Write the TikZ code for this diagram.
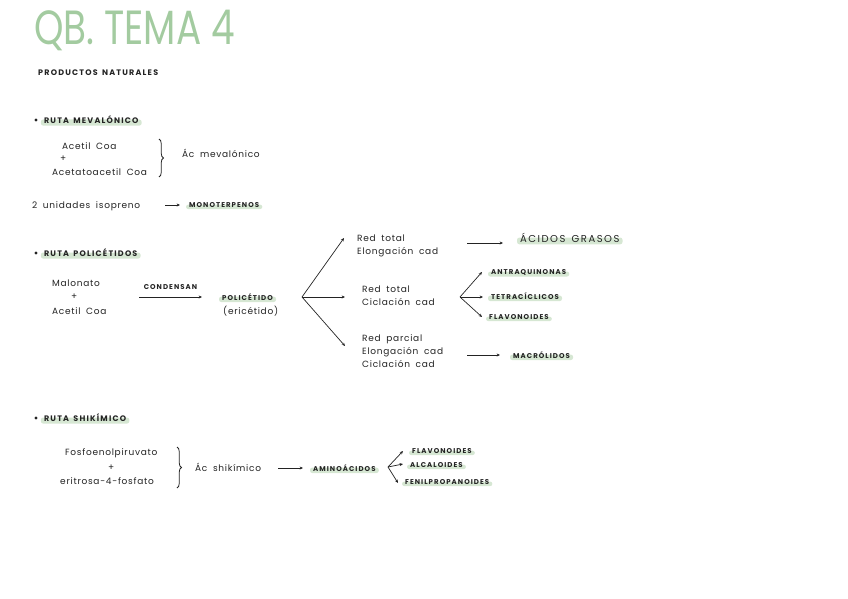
\documentclass[tikz,border=0pt]{standalone}
\usepackage{fontspec}
\setmainfont{Poppins}
\newfontfamily\handfont[LetterSpace=8, WordSpace=1.8]{Poppins}
\newfontfamily\capsfont[LetterSpace=15, WordSpace=1.5]{Poppins}
\usetikzlibrary{arrows.meta, positioning, calc, backgrounds, decorations.pathreplacing}
\definecolor{mygreen}{RGB}{163,203,160}
\definecolor{hlgreen}{RGB}{214,231,211}
\definecolor{myink}{RGB}{35,35,35}
\tikzset{
  titletext/.style={font=\fontsize{48}{48}\selectfont, text=mygreen,
    inner sep=0pt, anchor=west},
  hand/.style={font=\handfont\fontsize{9}{13}\selectfont, text=myink,
    inner sep=0pt, anchor=west, align=left},
  caps/.style={font=\capsfont\bfseries\fontsize{8}{9}\selectfont, text=myink,
    inner sep=0pt, anchor=west},
  tinycaps/.style={font=\capsfont\bfseries\fontsize{7}{8}\selectfont, text=myink,
    inner sep=0pt, anchor=west},
  bigcaps/.style={font=\capsfont\fontsize{10}{12}\selectfont, text=myink,
    inner sep=0pt, anchor=west},
  dot/.style={circle, fill=myink, inner sep=0pt, minimum size=3.2pt},
  arrow/.style={-{Stealth[length=3.4pt, width=3pt]}, line width=0.7pt, color=myink},
  handbrace/.style={decorate, decoration={brace, amplitude=4.5pt},
    line width=0.8pt, color=myink}
}

\begin{document}
\begin{tikzpicture}[x=1pt, y=-1pt]
  \useasboundingbox (0,0) rectangle (848,599);

  % Title
  \node[titletext] (title) at (34,30) {\scalebox{0.78}[1]{QB. TEMA 4}};
  \node[caps] (prod) at (38,73) {PRODUCTOS NATURALES};

  % Ruta mevalonico
  \node[dot] (b1) at (36,120) {};
  \node[caps, right=6pt of b1] (mev) {RUTA MEVALÓNICO};
  \node[hand] (acetil) at (62,146) {Acetil Coa};
  \node[hand] (plus1) at (60,159) {+};
  \node[hand] (acetato) at (52,172) {Acetatoacetil Coa};
  \coordinate (br1t) at (159,139);
  \coordinate (br1b) at (159,177);
  \draw[handbrace] (br1t) -- (br1b);
  \node[hand] (acmev) at (182,153) {Ác mevalónico};
  \node[hand] (isop) at (32,206) {2 unidades isopreno};
  \node[tinycaps] (mono) at (189,205) {MONOTERPENOS};
  \draw[arrow] ([xshift=-24pt]mono.west) -- ([xshift=-9pt]mono.west);

  % Ruta policetidos
  \node[dot] (b2) at (36,253) {};
  \node[caps, right=6pt of b2] (poli) {RUTA POLICÉTIDOS};
  \node[hand] (malon) at (52,283) {Malonato};
  \node[hand] (plus2) at (71,297) {+};
  \node[hand] (acetil2) at (52,311) {Acetil Coa};
  \node[tinycaps] (polic) at (222,297) {POLICÉTIDO};
  \node[hand] (eric) at (223,311) {(ericétido)};
  \draw[arrow] ([xshift=-83pt]polic.west) -- ([xshift=-20pt]polic.west)
    node[midway, above=7pt, tinycaps, anchor=south] {CONDENSAN};

  \coordinate (fan) at (302,297);
  \node[hand] (red1) at (357,245.5) {Red total\\Elongación cad};
  \node[hand] (red2) at (362,296) {Red total\\Ciclación cad};
  \node[hand] (red3) at (362,351) {Red parcial\\Elongación cad\\Ciclación cad};
  \draw[arrow] (fan) -- ([xshift=-13pt, yshift=7.5pt]red1.west);
  \draw[arrow] (fan) -- ([xshift=-17pt, yshift=-1pt]red2.west);
  \draw[arrow] (fan) -- ([xshift=-17pt, yshift=5pt]red3.west);

  \node[bigcaps] (acidos) at (520,238) {ÁCIDOS GRASOS};
  \draw[arrow] ([xshift=-53pt, yshift=-5pt]acidos.west) -- ([xshift=-17pt, yshift=-5pt]acidos.west);

  \coordinate (fan2) at (460,297);
  \node[tinycaps] (antra) at (491,272) {ANTRAQUINONAS};
  \node[tinycaps] (tetra) at (491,296) {TETRACÍCLICOS};
  \node[tinycaps] (flavo1) at (489,317) {FLAVONOIDES};
  \draw[arrow] (fan2) -- ([xshift=-9pt]antra.west);
  \draw[arrow] (fan2) -- ([xshift=-8pt, yshift=-1pt]tetra.west);
  \draw[arrow] (fan2) -- ([xshift=-7pt]flavo1.west);

  \node[tinycaps] (macro) at (513,355) {MACRÓLIDOS};
  \draw[arrow] ([xshift=-46pt]macro.west) -- ([xshift=-13pt]macro.west);

  % Ruta shikimico
  \node[dot] (b3) at (36,418) {};
  \node[caps, right=6pt of b3] (shik) {RUTA SHIKÍMICO};
  \node[hand] (fosfo) at (65,453) {Fosfoenolpiruvato};
  \node[hand] (plus3) at (108,468) {+};
  \node[hand] (eritr) at (60,481) {eritrosa-4-fosfato};
  \coordinate (br2t) at (177,447);
  \coordinate (br2b) at (177,488);
  \draw[handbrace] (br2t) -- (br2b);
  \node[hand] (acshik) at (195,467) {Ác shikímico};
  \node[tinycaps] (amino) at (313,468) {AMINOÁCIDOS};
  \draw[arrow] ([xshift=-35pt]amino.west) -- ([xshift=-10pt]amino.west);

  \coordinate (fan3) at (388,467);
  \node[tinycaps] (flavo2) at (412,451) {FLAVONOIDES};
  \node[tinycaps] (alca) at (410,465) {ALCALOIDES};
  \node[tinycaps] (fenil) at (405,482) {FENILPROPANOIDES};
  \draw[arrow] (fan3) -- ([xshift=-9pt]flavo2.west);
  \draw[arrow] (fan3) -- ([xshift=-7pt, yshift=1pt]alca.west);
  \draw[arrow] (fan3) -- ([xshift=-7pt, yshift=-1pt]fenil.west);

  % Highlights
  \begin{scope}[on background layer]
    \foreach \n in {mev, mono, poli, polic, acidos, antra, tetra, flavo1,
                    macro, shik, amino, flavo2, alca, fenil}
      \fill[hlgreen, rounded corners=2.5pt]
        ($(\n.south west)+(-3,1.5)$) rectangle ($(\n.east)+(3,-0.5)$);
  \end{scope}
\end{tikzpicture}
\end{document}
